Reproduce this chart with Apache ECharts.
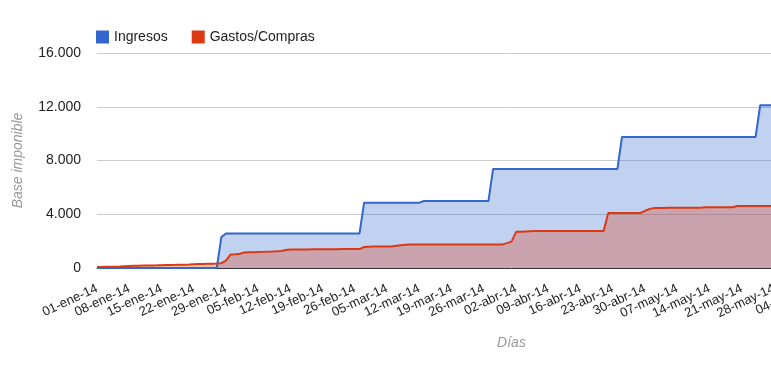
<!DOCTYPE html>
<html><head><meta charset="utf-8">
<script src="https://cdn.jsdelivr.net/npm/echarts@6/dist/echarts.min.js"></script>
<style>html,body{margin:0;padding:0;background:#fff;overflow:hidden;width:771px;height:379px}#c{width:926px;height:379px}</style>
</head><body><div id="c"></div>
<script>
// Category labels: daily, 01-ene-14 .. 30-jun-14
const monthNames = ['ene','feb','mar','abr','may','jun'];
const monthDays = [31,28,31,30,31,30];
const categories = [];
monthNames.forEach((m,i)=>{for(let d=1; d<=monthDays[i]; d++){categories.push((d<10?'0':'')+d+'-'+m+'-14');}});

const seriesNames = ['Ingresos','Gastos/Compras'];

const ingresos = [
0,0,0,0,0,0,0,0,0,0,0,0,0,0,0,0,0,0,0,0,0,0,0,0,0,0,0,
2300,
2570,2570,2570,2570,2570,2570,2570,2570,2570,2570,2570,2570,2570,2570,2570,2570,2570,2570,2570,2570,2570,2570,2570,2570,2570,2570,2570,2570,2570,2570,
4865,4865,4865,4865,4865,4865,4865,4865,4865,4865,4865,4865,4865,
4990,4990,4990,4990,4990,4990,4990,4990,4990,4990,4990,4990,4990,4990,4990,
7374,7374,7374,7374,7374,7374,7374,7374,7374,7374,7374,7374,7374,7374,7374,7374,7374,7374,7374,7374,7374,7374,7374,7374,7374,7374,7374,7374,
9758,9758,9758,9758,9758,9758,9758,9758,9758,9758,9758,9758,9758,9758,9758,9758,9758,9758,9758,9758,9758,9758,9758,9758,9758,9758,9758,9758,9758,9758,
12120,12120,12120,12120,12120
];

const gastos = [
75,80,85,90,100,110,130,150,165,175,185,190,195,200,210,220,230,235,245,250,260,275,290,300,310,320,
330,360,550,1000,1020,1060,1150,1175,
1180,1190,1200,1210,1220,1240,1265,
1340,
1370,1370,1375,1380,1385,1390,1390,1395,1400,1400,1400,1405,1405,1410,1410,1410,
1560,
1590,1595,1600,1600,1600,1600,
1650,1700,1730,1745,
1750,1750,1750,1750,1750,1750,1750,1750,1750,1750,1750,1750,1750,1750,1750,1750,1750,1750,1750,1750,
1850,1960,2690,
2700,2715,2730,2745,
2756,2756,2756,2756,2756,2756,2756,2756,2756,2756,2756,2756,2756,2756,2756,
4090,4090,4090,4090,4090,4090,4090,
4100,4250,4400,4460,
4470,4470,4475,4480,4480,4485,4485,4490,4490,4490,
4520,4520,4520,4520,4520,4520,4520,
4610,4610,4610,4610,4610,4610,4610,4610,4610,4610
];

const yTicks = {min:0, max:16000, interval:4000};

const chart = echarts.init(document.getElementById('c'), null, {renderer:'canvas'});
const font = 'Arial, "Liberation Sans", sans-serif';
chart.setOption({
  animation:false,
  textStyle:{fontFamily:font},
  color:['#3366cc','#dc3912'],
  legend:{
    left:91, top:25, icon:'rect', itemWidth:13, itemHeight:13, itemGap:24,
    data:seriesNames,
    textStyle:{fontSize:14, color:'#222', fontFamily:font}
  },
  grid:{left:97, right:0, top:53, bottom:111, containLabel:false},
  xAxis:{
    type:'category', data:categories, boundaryGap:false,
    name:'Días', nameLocation:'middle', nameGap:68,
    nameTextStyle:{fontSize:14, fontStyle:'italic', color:'#999', fontFamily:font},
    axisLine:{lineStyle:{color:'#333', width:1}},
    axisTick:{show:false},
    axisLabel:{interval:6, rotate:25, fontSize:13, color:'#222', margin:20, fontFamily:font, showMinLabel:true, hideOverlap:false},
    splitLine:{show:false}
  },
  yAxis:{
    type:'value', min:yTicks.min, max:yTicks.max, interval:yTicks.interval,
    name:'Base imponible', nameLocation:'middle', nameGap:72, nameRotate:90,
    nameTextStyle:{fontSize:14, fontStyle:'italic', color:'#999', fontFamily:font},
    axisLine:{show:false}, axisTick:{show:false},
    axisLabel:{fontSize:14, color:'#222', margin:16, fontFamily:font,
      formatter:v=>String(v).replace(/\B(?=(\d{3})+(?!\d))/g,'.')},
    splitLine:{lineStyle:{color:'#cccccc', width:1}}
  },
  series:[
    {name:seriesNames[0], type:'line', data:ingresos, showSymbol:false, symbol:'none',
     lineStyle:{width:2, color:'#3366cc'}, areaStyle:{color:'#3366cc', opacity:0.3}},
    {name:seriesNames[1], type:'line', data:gastos, showSymbol:false, symbol:'none',
     lineStyle:{width:2, color:'#dc3912'}, areaStyle:{color:'#dc3912', opacity:0.3}}
  ]
});
</script></body></html>
